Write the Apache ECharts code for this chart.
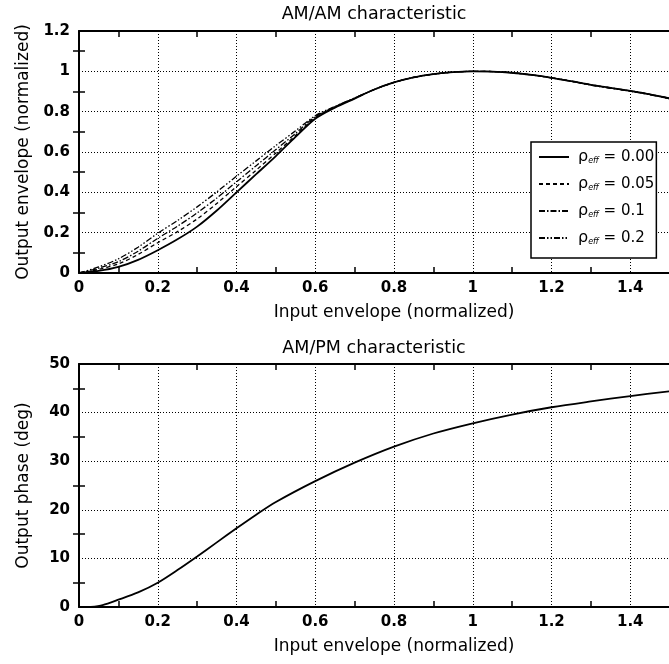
<!DOCTYPE html>
<html>
<head>
<meta charset="utf-8">
<title>AM/AM and AM/PM characteristics</title>
<script src="https://cdn.jsdelivr.net/npm/echarts@6/dist/echarts.min.js"></script>
<style>
  html, body { margin: 0; padding: 0; background: #fff; }
  #chart { width: 669px; height: 664px; }
</style>
</head>
<body>
<div id="chart"></div>
<script>
// Input envelope samples (normalized) for the AM/AM curves
const amInput = [0, 0.05, 0.1, 0.15, 0.2, 0.25, 0.3, 0.35, 0.4, 0.45, 0.5, 0.55, 0.6, 0.65, 0.7, 0.75,
                 0.8, 0.85, 0.9, 0.95, 1.0, 1.05, 1.1, 1.15, 1.2, 1.25, 1.3, 1.35, 1.4, 1.45, 1.5];

// Output envelope (normalized) for each value of rho_eff
const amRho000 = [0, 0.010, 0.030, 0.065, 0.113, 0.167, 0.230, 0.310, 0.400, 0.490, 0.580, 0.675, 0.765, 0.820, 0.865, 0.910,
                  0.945, 0.970, 0.986, 0.996, 1.000, 0.999, 0.993, 0.982, 0.968, 0.951, 0.933, 0.918, 0.903, 0.886, 0.866];
const amRho005 = [0, 0.018, 0.045, 0.092, 0.150, 0.205, 0.268, 0.345, 0.428, 0.510, 0.595, 0.682, 0.770, 0.822, 0.866, 0.910,
                  0.945, 0.970, 0.986, 0.996, 1.000, 0.999, 0.993, 0.982, 0.968, 0.951, 0.933, 0.918, 0.903, 0.886, 0.866];
const amRho010 = [0, 0.024, 0.056, 0.108, 0.172, 0.232, 0.298, 0.372, 0.452, 0.532, 0.612, 0.692, 0.775, 0.824, 0.867, 0.910,
                  0.945, 0.970, 0.986, 0.996, 1.000, 0.999, 0.993, 0.982, 0.968, 0.951, 0.933, 0.918, 0.903, 0.886, 0.866];
const amRho020 = [0, 0.030, 0.070, 0.128, 0.197, 0.260, 0.328, 0.402, 0.480, 0.556, 0.632, 0.705, 0.780, 0.826, 0.868, 0.910,
                  0.945, 0.970, 0.986, 0.996, 1.000, 0.999, 0.993, 0.982, 0.968, 0.951, 0.932, 0.916, 0.901, 0.884, 0.864];

const rhoValues = ['0.00', '0.05', '0.1', '0.2'];

// AM/PM curve: input envelope and output phase in degrees
const pmInput = [0.03, 0.06, 0.1, 0.15, 0.2, 0.25, 0.3, 0.35, 0.4, 0.45, 0.5, 0.6, 0.7, 0.8, 0.9, 1.0, 1.1, 1.2, 1.3, 1.4, 1.5];
const pmPhase = [0, 0.4, 1.5, 3.0, 5.0, 7.6, 10.4, 13.3, 16.2, 19.0, 21.6, 25.9, 29.7, 33.0, 35.7, 37.8, 39.6, 41.1, 42.3, 43.4, 44.4];

const FONT = 'DejaVu Sans';
const INK = '#000';

const pairs = (xs, ys) => xs.map((x, i) => [x, ys[i]]);

const xLabel = v => (v > 1.45 ? '' : String(+v.toFixed(1)));
const yLabel = v => String(+v.toFixed(1));

// The main grids run 0 .. 1.6 so that 1.5 falls on the right edge of the page;
// the narrower helper grids (0 .. 1.5) carry the right-hand tick marks.
const plotLeft = 79;
const unitPx = 393.75;
const grids = [
  { left: plotLeft, top: 31, width: unitPx * 1.6, height: 242, outerBoundsMode: 'none', containLabel: false },
  { left: plotLeft, top: 31, width: unitPx * 1.5, height: 242, outerBoundsMode: 'none', containLabel: false },
  { left: plotLeft, top: 364, width: unitPx * 1.6, height: 243, outerBoundsMode: 'none', containLabel: false },
  { left: plotLeft, top: 364, width: unitPx * 1.5, height: 243, outerBoundsMode: 'none', containLabel: false }
];

const minorTicks = { show: true, splitNumber: 2, length: 6, lineStyle: { color: INK, width: 1.5 } };
const dotted = { show: true, lineStyle: { color: INK, type: [1, 2], width: 1 } };

function xAxes(mainGrid, helperGrid) {
  return [
    {
      type: 'value', gridIndex: mainGrid, position: 'bottom', min: 0, max: 1.6, interval: 0.2,
      name: 'Input envelope (normalized)', nameLocation: 'middle', nameGap: 31,
      nameTextStyle: { fontFamily: FONT, fontSize: 17, color: INK },
      axisLine: { show: true, lineStyle: { color: INK, width: 2 } },
      axisTick: { show: false, inside: true },
      minorTick: minorTicks,
      axisLabel: { formatter: xLabel, margin: 8, fontFamily: FONT, fontSize: 15, fontWeight: 'bold', color: INK },
      splitLine: dotted
    },
    {
      type: 'value', gridIndex: mainGrid, position: 'top', min: 0, max: 1.6, interval: 0.2,
      axisLine: { show: true, lineStyle: { color: INK, width: 2 } },
      axisTick: { show: false, inside: true },
      minorTick: minorTicks,
      axisLabel: { show: false },
      splitLine: { show: false }
    },
    {
      type: 'value', gridIndex: helperGrid, min: 0, max: 1.5, show: false
    }
  ];
}

function yAxes(mainGrid, helperGrid, max, interval, name) {
  return [
    {
      type: 'value', gridIndex: mainGrid, position: 'left', min: 0, max, interval,
      name, nameLocation: 'middle', nameGap: 47,
      nameTextStyle: { fontFamily: FONT, fontSize: 17, color: INK },
      axisLine: { show: true, lineStyle: { color: INK, width: 2 } },
      axisTick: { show: false, inside: true },
      minorTick: minorTicks,
      axisLabel: { formatter: yLabel, margin: 9, fontFamily: FONT, fontSize: 15, fontWeight: 'bold', color: INK },
      splitLine: dotted
    },
    {
      type: 'value', gridIndex: helperGrid, position: 'right', min: 0, max, interval,
      axisLine: { show: false },
      axisTick: { show: false, inside: true },
      minorTick: minorTicks,
      axisLabel: { show: false },
      splitLine: { show: false }
    }
  ];
}

const amStyles = [
  { type: 'solid', width: 1.8 },
  { type: [4, 3], width: 1.3 },
  { type: [6, 2, 1.5, 2], width: 1.3 },
  { type: [6, 2, 1.5, 2, 1.5, 2], width: 1.3 }
];
const amSeriesData = [amRho000, amRho005, amRho010, amRho020];

const option = {
  animation: false,
  backgroundColor: '#fff',
  grid: grids,
  xAxis: [...xAxes(0, 1), ...xAxes(2, 3)],
  yAxis: [
    ...yAxes(0, 1, 1.2, 0.2, 'Output envelope (normalized)'),
    ...yAxes(2, 3, 50, 10, 'Output phase (deg)')
  ],
  legend: {
    orient: 'vertical',
    left: 531, top: 142,
    itemWidth: 30, itemHeight: 16, itemGap: 11,
    padding: [7, 2, 12, 7],
    backgroundColor: '#fff',
    borderColor: INK, borderWidth: 1.5, borderRadius: 0,
    data: rhoValues,
    itemStyle: { color: 'rgba(0,0,0,0)', borderWidth: 0 },
    formatter: v => `{p|ρ}{s|eff}{r| = ${v}}`,
    textStyle: {
      color: INK, fontFamily: FONT, fontSize: 15,
      rich: {
        p: { fontFamily: FONT, fontSize: 16, color: INK, lineHeight: 16, padding: [0, 0, 0, 4] },
        r: { fontFamily: FONT, fontSize: 15, color: INK, lineHeight: 16 },
        s: { fontFamily: FONT, fontSize: 8, fontStyle: 'italic', color: INK, lineHeight: 16, verticalAlign: 'bottom', padding: [7, 0, 0, 0] }
      }
    }
  },
  graphic: [
    { type: 'text', x: 374, y: 14, style: { text: 'AM/AM characteristic', fontFamily: FONT, fontSize: 17.5, fill: INK, align: 'center', verticalAlign: 'middle' } },
    { type: 'text', x: 374, y: 348, style: { text: 'AM/PM characteristic', fontFamily: FONT, fontSize: 17.5, fill: INK, align: 'center', verticalAlign: 'middle' } }
  ],
  series: [
    ...amSeriesData.map((vals, i) => ({
      name: rhoValues[i],
      type: 'line', xAxisIndex: 0, yAxisIndex: 0,
      data: pairs(amInput, vals),
      symbol: 'none', smooth: 0.3,
      itemStyle: { color: INK },
      lineStyle: { color: INK, width: amStyles[i].width, type: amStyles[i].type },
      z: 10 - i
    })),
    {
      name: 'phase',
      type: 'line', xAxisIndex: 3, yAxisIndex: 2,
      data: pairs(pmInput, pmPhase),
      symbol: 'none', smooth: 0.3,
      itemStyle: { color: INK },
      lineStyle: { color: INK, width: 1.8, type: 'solid' }
    }
  ]
};

const chart = echarts.init(document.getElementById('chart'), null, { renderer: 'canvas' });
chart.setOption(option);
</script>
</body>
</html>
